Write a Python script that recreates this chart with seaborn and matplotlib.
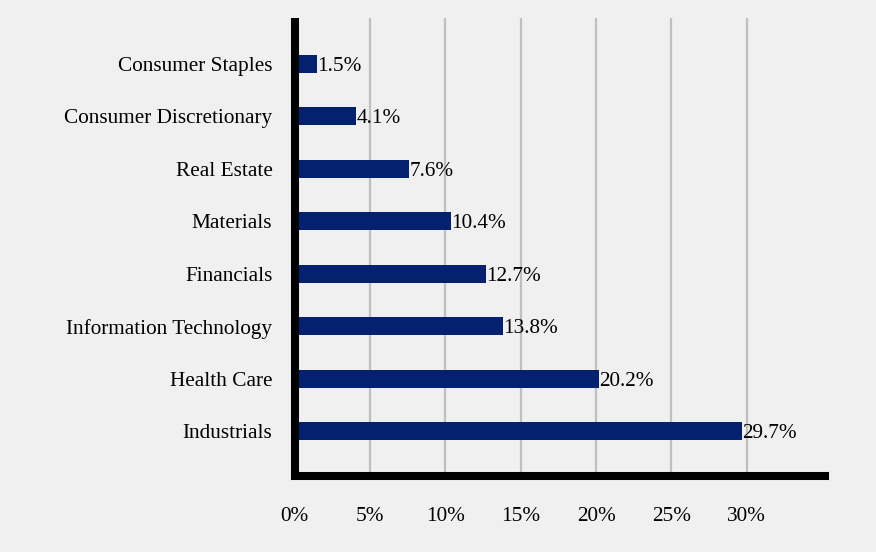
import pandas as pd
import matplotlib
matplotlib.use("Agg")
import matplotlib.pyplot as plt
import seaborn as sns

sectors = ["Consumer Staples", "Consumer Discretionary", "Real Estate", "Materials",
           "Financials", "Information Technology", "Health Care", "Industrials"]
weights = [1.5, 4.1, 7.6, 10.4, 12.7, 13.8, 20.2, 29.7]
xticks = [0, 5, 10, 15, 20, 25, 30]

df = pd.DataFrame({"sector": sectors, "weight": weights})

sns.set_style("white")
plt.rcParams["font.family"] = ["Liberation Serif", "DejaVu Serif"]
plt.rcParams["text.color"] = "black"
plt.rcParams["xtick.color"] = "black"
plt.rcParams["ytick.color"] = "black"

bg = "#F0F0F0"
fs = 15.3
fig = plt.figure(figsize=(8.76, 5.52), dpi=100, facecolor=bg)
ax = fig.add_axes([0.3363, 0.1377, 0.942 - 0.3363, 0.967 - 0.1377])
ax.set_facecolor(bg)

sns.barplot(data=df, x="weight", y="sector", orient="h", color="#03216E",
            width=0.34, saturation=1, linewidth=0, ax=ax, zorder=3)

for i, v in enumerate(weights):
    ax.text(v, i, f"{v:.1f}%", va="center_baseline", ha="left", fontsize=fs,
            color="black", zorder=4)

ax.set_xlim(0, 35.2)
ax.set_ylim(7.85, -0.87)
ax.set_xticks(xticks)
ax.set_xticklabels([f"{t}%" for t in xticks], fontsize=fs)
ax.tick_params(axis="y", labelsize=fs, length=0, pad=16)
ax.tick_params(axis="x", length=0, pad=22)
ax.set_xlabel("")
ax.set_ylabel("")

ax.grid(axis="x", color="#BFBFBF", linewidth=1.6, zorder=0)
ax.set_axisbelow(True)

for s in ["top", "right"]:
    ax.spines[s].set_visible(False)
for s in ["left", "bottom"]:
    ax.spines[s].set_linewidth(5.8)
    ax.spines[s].set_color("black")
    ax.spines[s].set_zorder(5)
ax.spines["left"].set_capstyle("butt")
ax.spines["bottom"].set_capstyle("projecting")

fig.savefig("out.png", dpi=100, facecolor=bg)
